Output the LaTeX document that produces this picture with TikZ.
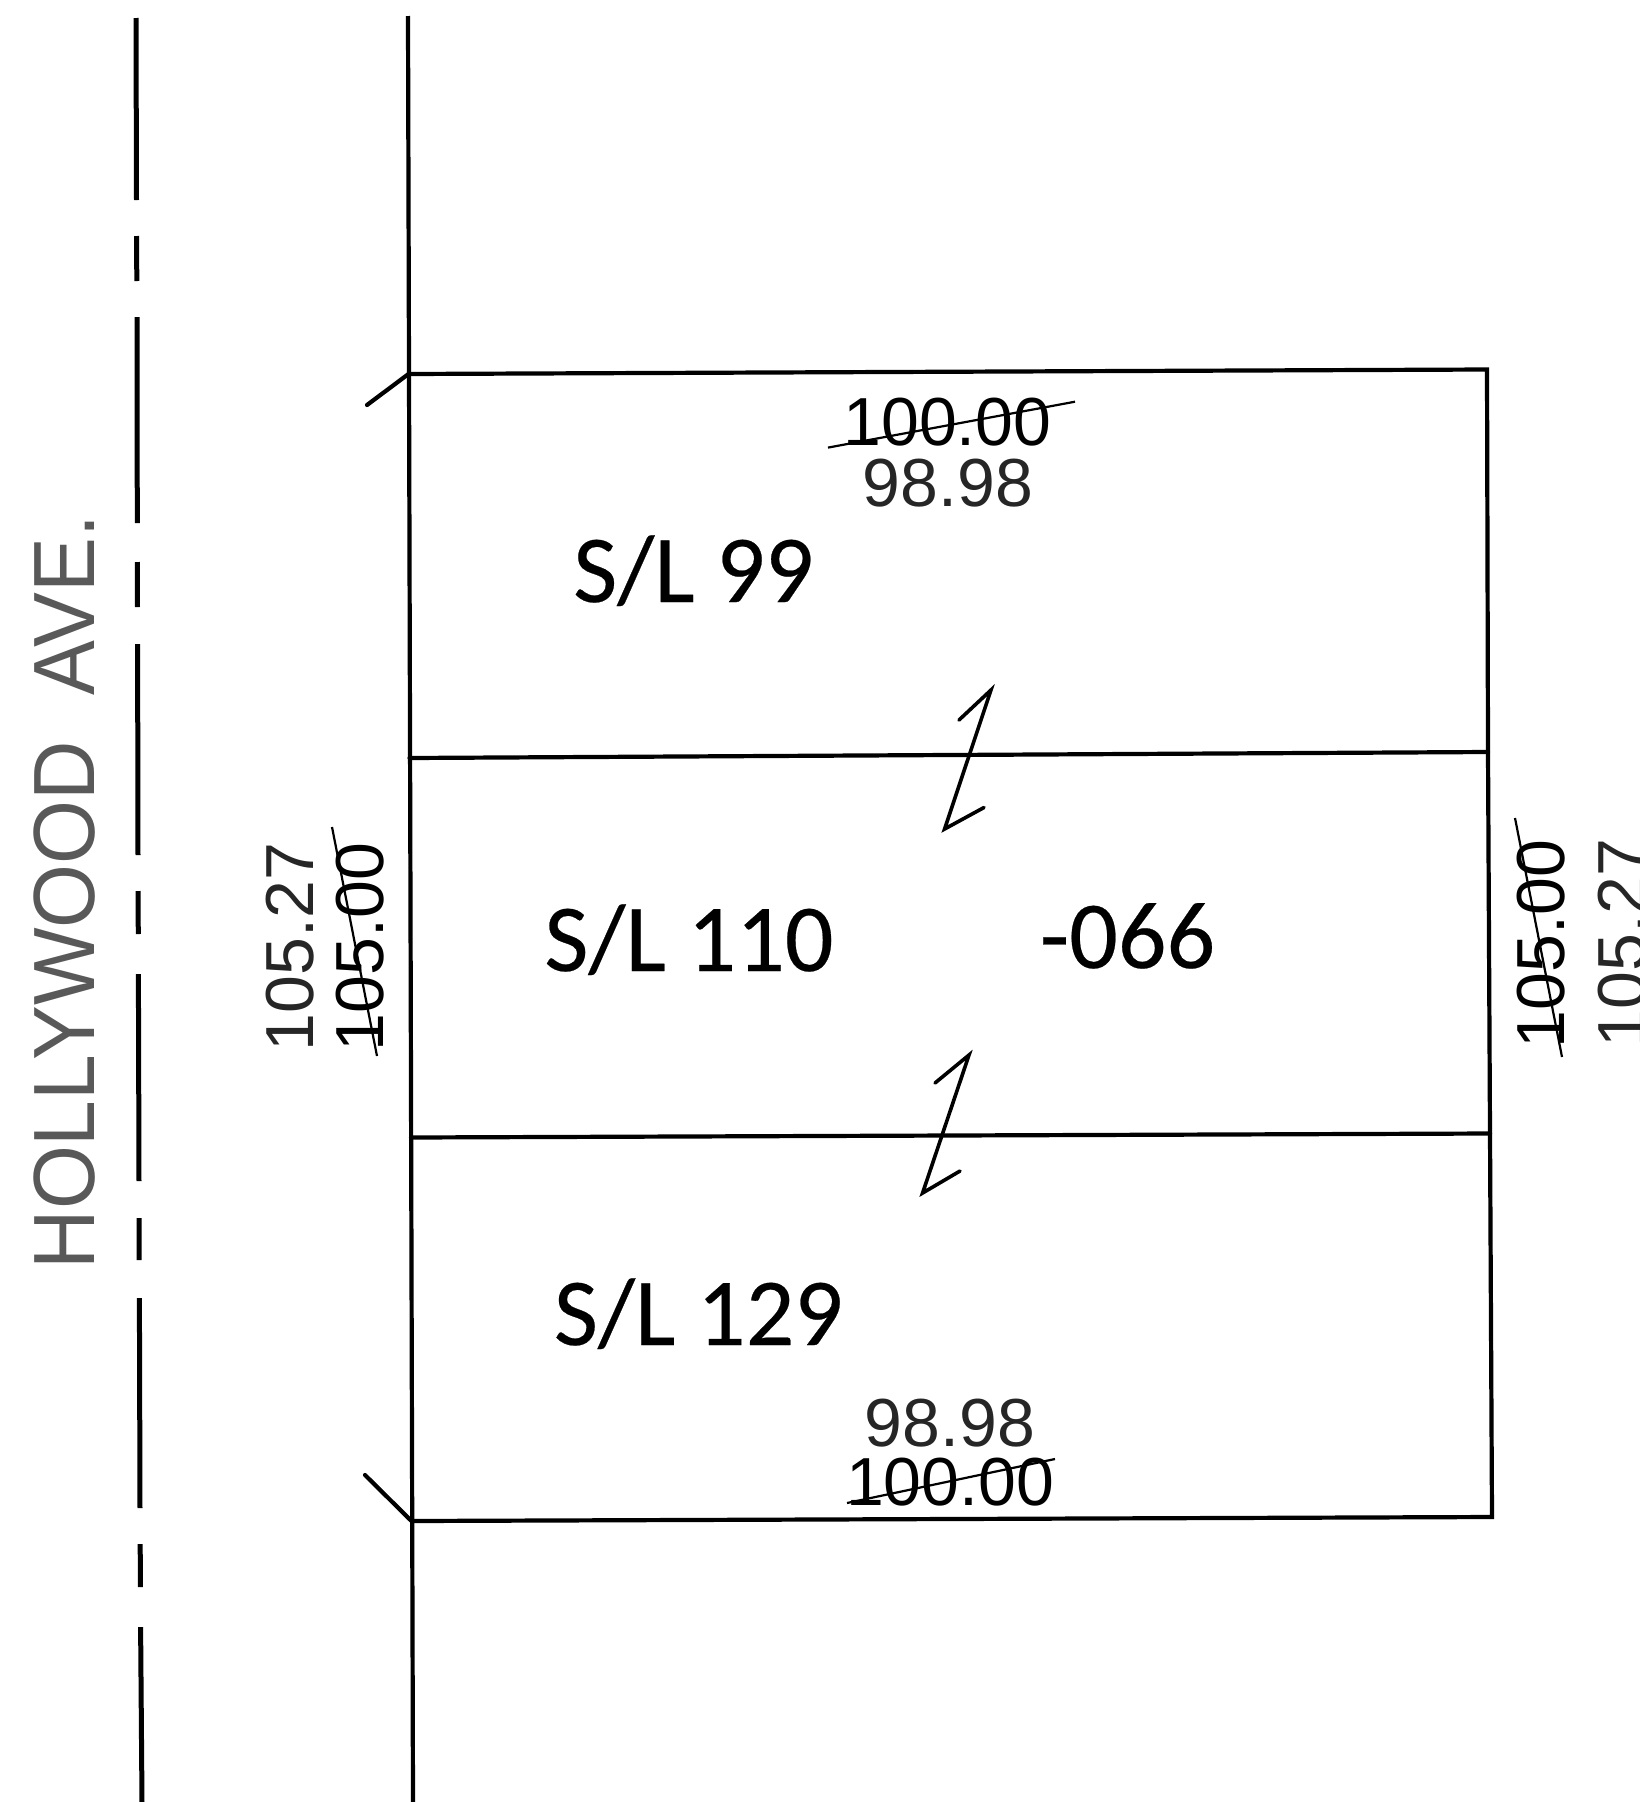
\documentclass[tikz,border=0pt]{standalone}
\usepackage{fontspec}
\setmainfont{Liberation Sans}
\newfontfamily\lotfont[FakeBold=0.25]{Carlito}
\tikzset{
  road/.style={line width=5pt,black},
  spine/.style={line width=4.2pt,black},
  parcel/.style={line width=4.2pt,black,line cap=round},
  strike/.style={line width=2.2pt,black},
  zig/.style={line width=3.6pt,black,line join=miter,line cap=round},
  dim/.style={inner sep=0pt,anchor=base,font=\fontsize{68}{68}\selectfont,text=black!85},
  dimold/.style={dim,text=black},
  lot/.style={inner sep=0pt,anchor=base,font=\lotfont\fontsize{96}{96}\selectfont},
}
\begin{document}
\begin{tikzpicture}[x=1pt,y=-1pt]
\useasboundingbox (0,0) rectangle (1640,1802);
\clip (0,0) rectangle (1640,1802);
% road centre line
\draw[road] (136.0,18) -- (136.5,200) (136.6,236) -- (136.8,281) (137,317) -- (137.3,523)
  (137.3,562) -- (137.5,607) (137.6,644) -- (138,855) (138,891) -- (138.3,934)
  (138.4,974) -- (139,1181) (139,1218) -- (139.2,1260) (139.4,1298) -- (140,1508)
  (140.2,1544) -- (140.4,1587) (140.6,1627) -- (142,1802);
% property line
\draw[spine] (408,16) -- (413,1802);
% parcels
\coordinate (tl) at (408.5,374);
\coordinate (tr) at (1487,369.5);
\coordinate (m1l) at (409.5,758);
\coordinate (m1r) at (1488,752);
\coordinate (m2l) at (411,1137.5);
\coordinate (m2r) at (1490,1133.5);
\coordinate (bl) at (411.5,1521);
\coordinate (br) at (1492,1517);
\draw[parcel] (tl) -- (tr) -- (m1r) -- (m2r) -- (br) -- (bl);
\draw[parcel] (m1l) -- (m1r);
\draw[parcel] (m2l) -- (m2r);
% corner ticks
\coordinate (tt) at (367,405);
\coordinate (tb) at (365,1475);
\draw[parcel] (tt) -- (tl);
\draw[parcel] (tb) -- (bl);
% break marks
\draw[zig] (959,720) -- (991,690) -- (944.6,829) -- (984,807.5);
\draw[zig] (935,1083) -- (969,1055) -- (922.6,1193) -- (960,1171);
% street name
\node[rotate=90,anchor=base,inner sep=0pt,text=black!65] (street) at (94,892)
  {\scalebox{0.945}[1]{\fontsize{87}{87}\selectfont HOLLYWOOD\hspace{0.27em} AVE.}};
% dimensions
\node[dimold] (d1) at (947.5,445) {100.00};
\node[dim] (d2) at (948,506) {98.98};
\draw[strike] (828,447.6) -- (1075,401.7);
\node[dim] (d3) at (950,1446) {98.98};
\node[dimold] (d4) at (950,1505) {100.00};
\draw[strike] (847,1503) -- (1055,1459);
\node[dim,rotate=90] (d5) at (313,947) {105.27};
\node[dimold,rotate=90] (d6) at (383,947) {105.00};
\draw[strike] (332,827) -- (377,1056);
\node[dimold,rotate=90] (d7) at (1564,944) {105.00};
\node[dim,rotate=90] (d8) at (1645,943) {105.27};
\draw[strike] (1515,818) -- (1562,1057);
% lot labels
\node[lot] (l1) at (693.5,602) {S/L 99};
\node[lot] (l2) at (689,971) {S/L 110};
\node[lot] (l3) at (698.5,1345) {S/L 129};
\node[lot] (l4) at (1127.5,968) {-066};
\end{tikzpicture}
\end{document}
